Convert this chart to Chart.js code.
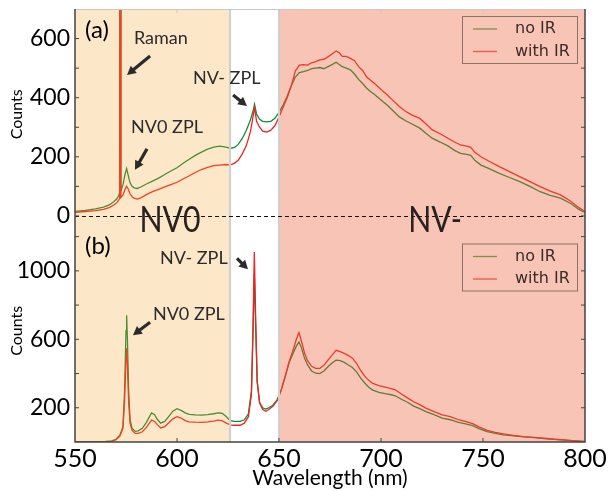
<!DOCTYPE html>
<html>
<head>
<meta charset="utf-8">
<script src="https://cdn.jsdelivr.net/npm/chart.js@4.4.0/dist/chart.umd.min.js"></script>
<style>
  html, body { margin: 0; padding: 0; background: #fff; }
  #wrap { width: 608px; height: 491px; }
</style>
</head>
<body>
<div id="wrap"><canvas id="spectra" width="608" height="491"></canvas></div>
<script>
// panel (a): wavelength (nm) and counts
const topWavelength = [550,555,560,564,567,569,570.5,571.5,571.9,572.2,572.5,573.5,574.5,575.3,576,577,578,579,580.5,582,
  585,588,591,594,597,600,603,606,609,612,615,618,621,624,626,628,630,632,634,636,
  637.5,638,639,640.5,642,644,646,648,650,652,654,656,658,660,662,664,666,668,670,672,
  674,676,678,679.5,681,683,685,687,689,691,693,695,697,700,703,706,709,712,715,719,
  722,725,729,733,736,739,742,744,746,749,753,758,763,768,773,778,783,788,793,797,800];
const topNoIR = [15,19,24,30,38,48,58,70,80,2500,85,105,140,160,140,112,100,95,93,97,
  108,118,128,140,152,163,178,192,205,216,226,233,236,233,229,231,242,262,290,325,
  360,378,345,327,320,318,320,330,350,375,405,440,470,485,488,492,498,500,502,498,
  505,512,520,512,505,500,494,480,462,448,432,420,410,392,375,355,335,322,312,297,
  280,263,250,236,222,212,208,205,188,172,160,144,130,116,100,82,70,60,42,22,12];
const topWithIR = [12,15,18,22,29,37,45,54,60,2500,62,70,90,100,92,75,65,60,57,60,
  72,82,90,98,106,114,125,136,147,157,164,170,172,174,172,178,188,210,238,285,
  345,368,320,300,287,284,290,305,335,368,400,440,490,510,512,510,518,522,528,530,
  538,548,558,552,540,540,533,525,505,492,470,458,447,428,410,390,370,354,342,330,
  312,292,278,262,250,240,236,232,215,200,185,167,150,133,116,99,84,71,50,28,15];

// panel (b)
const botWavelength = [550,555,560,565,568,570,572,573.5,574.3,575,575.3,575.7,576.3,577,578,579.5,581,583,585,587.5,
  589,590.5,592,594,596,598,600,602,604,606,609,612,615,618,620,622,624,626,628,631,
  633,635,636.5,637.3,637.9,638.5,639.3,640.5,642,643.5,645,647,649,651,653,655,657,658.5,659.8,661,
  662.5,664,666,668,670,672,674,676,678,680,682,684,686,688,690,692,694,696,699,702,
  705,707,710,713,716,719,722,726,730,734,738,742,745,748,752,756,760,765,770,775,
  780,785,790,795,800];
const botNoIR = [2,2,2,3,6,15,40,90,300,650,740,600,300,130,80,62,65,80,115,170,
  160,130,110,120,150,180,195,185,170,162,158,157,160,165,170,168,150,125,120,120,
  130,165,300,650,984,700,350,230,200,192,200,215,245,300,380,465,520,560,585,550,
  490,450,415,402,400,415,440,462,478,475,465,450,435,410,375,345,320,303,290,282,
  276,270,250,232,210,195,178,160,140,130,115,105,96,78,60,50,42,36,30,25,
  20,15,11,6,2];
const botWithIR = [1,1,1,2,4,12,35,80,240,480,548,450,230,110,68,50,50,60,85,128,
  120,100,82,90,112,135,148,140,125,118,116,115,118,122,128,125,112,100,98,98,
  110,148,280,700,1110,760,360,228,190,180,190,208,240,300,385,470,540,600,640,590,
  520,475,442,430,430,448,478,508,536,528,518,505,490,460,418,385,360,342,330,320,
  312,305,280,258,235,218,198,178,158,148,130,118,107,88,68,56,47,39,32,27,
  22,16,12,7,3];

const seriesNames = ['no IR', 'with IR'];
const xTickValues = [550, 600, 650, 700, 750, 800];
const topTickMarks = [0, 100, 200, 300, 400, 500, 600];
const topTickLabels = [0, 200, 400, 600];
const botTickMarks = [200, 400, 600, 800, 1000, 1200];
const botTickLabels = [200, 600, 1000];
const bandEdges = [550, 626, 650, 800]; // NV0 band | gap | NV- band

const GREEN = '#118a33';
const RED = '#ee2222';
const INK = '#2b2b2b';

Chart.defaults.font.family = 'Lato, "Open Sans", sans-serif';
Chart.defaults.color = '#000';

const pts = (xs, ys) => xs.map((x, i) => ({ x: x, y: ys[i] }));

function arrow(ctx, x1, y1, x2, y2) {
  const ang = Math.atan2(y2 - y1, x2 - x1);
  const head = 10;
  ctx.strokeStyle = INK;
  ctx.fillStyle = INK;
  ctx.lineWidth = 3.2;
  ctx.beginPath();
  ctx.moveTo(x1, y1);
  ctx.lineTo(x2 - Math.cos(ang) * head * 0.7, y2 - Math.sin(ang) * head * 0.7);
  ctx.stroke();
  ctx.beginPath();
  ctx.moveTo(x2, y2);
  ctx.lineTo(x2 - head * Math.cos(ang - 0.5), y2 - head * Math.sin(ang - 0.5));
  ctx.lineTo(x2 - head * Math.cos(ang + 0.5), y2 - head * Math.sin(ang + 0.5));
  ctx.closePath();
  ctx.fill();
}

function legendBox(ctx, left, top) {
  ctx.strokeStyle = '#8c7264';
  ctx.lineWidth = 1;
  ctx.strokeRect(left + 0.5, top + 0.5, 115, 47);
  const colors = ['#7d8f4e', '#f0554a'];
  ctx.font = '16px "DejaVu Sans"';
  ctx.textBaseline = 'middle';
  ctx.textAlign = 'left';
  seriesNames.forEach((name, i) => {
    const y = top + 13 + i * 22.5;
    ctx.strokeStyle = colors[i];
    ctx.lineWidth = 1.3;
    ctx.beginPath();
    ctx.moveTo(left + 11, y);
    ctx.lineTo(left + 35, y);
    ctx.stroke();
    ctx.fillStyle = '#3b2c28';
    ctx.fillText(name, left + 53, y);
  });
}

const decor = {
  id: 'decor',
  afterDatasetsDraw(chart) {
    const { ctx, chartArea: a, scales } = chart;
    const x = scales.x, yT = scales.yTop, yB = scales.yBot;
    const X = v => x.getPixelForValue(v);
    ctx.save();

    // shaded bands sit over the traces, as in the original figure
    ctx.fillStyle = 'rgba(245,160,40,0.25)';
    ctx.fillRect(X(bandEdges[0]), a.top, X(bandEdges[1]) - X(bandEdges[0]), a.height);
    ctx.fillStyle = 'rgba(235,100,60,0.38)';
    ctx.fillRect(X(bandEdges[2]), a.top, X(bandEdges[3]) - X(bandEdges[2]), a.height);
    ctx.strokeStyle = '#cfcfcf';
    ctx.lineWidth = 2;
    [bandEdges[1], bandEdges[2]].forEach(v => {
      ctx.beginPath();
      ctx.moveTo(X(v), a.top);
      ctx.lineTo(X(v), a.bottom);
      ctx.stroke();
    });

    // zero line of panel (a)
    const y0 = Math.round(yT.getPixelForValue(0)) + 0.5;
    ctx.strokeStyle = '#111';
    ctx.lineWidth = 1;
    ctx.setLineDash([4, 3]);
    ctx.beginPath();
    ctx.moveTo(a.left, y0);
    ctx.lineTo(a.right, y0);
    ctx.stroke();
    ctx.setLineDash([]);

    // frame and inward ticks
    ctx.strokeStyle = '#c8c8c8';
    ctx.lineWidth = 1;
    ctx.beginPath();
    ctx.moveTo(a.left, a.top + 0.5);
    ctx.lineTo(a.right, a.top + 0.5);
    ctx.stroke();
    xTickValues.slice(1, -1).forEach(v => {
      ctx.beginPath();
      ctx.moveTo(X(v), a.top);
      ctx.lineTo(X(v), a.top + 4);
      ctx.stroke();
    });
    ctx.strokeStyle = '#444';
    ctx.lineWidth = 1.5;
    ctx.beginPath();
    ctx.moveTo(a.left, a.top);
    ctx.lineTo(a.left, a.bottom);
    ctx.lineTo(a.right, a.bottom);
    ctx.lineTo(a.right, a.top);
    ctx.stroke();
    ctx.lineWidth = 1;
    xTickValues.slice(1, -1).forEach(v => {
      ctx.beginPath();
      ctx.moveTo(X(v), a.bottom);
      ctx.lineTo(X(v), a.bottom - 4);
      ctx.stroke();
    });
    [yT, yB].forEach(s => {
      s.ticks.forEach(t => {
        if (t.value <= s.min || t.value >= s.max) return;
        const py = s.getPixelForValue(t.value);
        ctx.beginPath();
        ctx.moveTo(a.left, py); ctx.lineTo(a.left + 4, py);
        ctx.moveTo(a.right, py); ctx.lineTo(a.right - 4, py);
        ctx.stroke();
      });
    });

    // annotations
    ctx.fillStyle = '#000';
    ctx.textBaseline = 'middle';
    ctx.textAlign = 'left';
    ctx.font = '24px Lato';
    ctx.fillText('(a)', X(554.9), yT.getPixelForValue(629));
    ctx.fillText('(b)', X(554.9), yB.getPixelForValue(1143));

    ctx.fillStyle = INK;
    ctx.font = '18px Lato';
    ctx.fillText('Raman', X(578.9), yT.getPixelForValue(602));
    ctx.fillText('NV0 ZPL', X(577.5), yT.getPixelForValue(301));
    ctx.fillText('NV- ZPL', X(607.8), yT.getPixelForValue(467));
    ctx.fillText('NV- ZPL', X(591.7), yB.getPixelForValue(1073));
    ctx.fillText('NV0 ZPL', X(588.2), yB.getPixelForValue(746));

    arrow(ctx, X(586.8), yT.getPixelForValue(541), X(575.5), yT.getPixelForValue(477));
    arrow(ctx, X(585.3), yT.getPixelForValue(227), X(579.4), yT.getPixelForValue(156));
    arrow(ctx, X(627.5), yT.getPixelForValue(409), X(634.3), yT.getPixelForValue(372));
    arrow(ctx, X(629.4), yB.getPixelForValue(1073), X(634.8), yB.getPixelForValue(1009));
    arrow(ctx, X(586.8), yB.getPixelForValue(700), X(578.4), yB.getPixelForValue(624));

    // band names on the seam between panels
    const seam = yT.bottom + 1;
    ctx.fillStyle = '#2a2220';
    ctx.font = '36px Lato';
    ctx.textAlign = 'center';
    [['NV0', 596.6], ['NV-', 726.5]].forEach(([txt, wl]) => {
      ctx.save();
      ctx.translate(X(wl), seam);
      ctx.scale(0.84, 1);
      ctx.fillText(txt, 0, 0);
      ctx.restore();
    });

    legendBox(ctx, a.right - 123, yT.top + 7);
    legendBox(ctx, a.right - 123, yB.top + 24);

    ctx.restore();
  }
};

const fitY = s => { s.width = 75; s.paddingTop = 0; s.paddingBottom = 0; };

new Chart(document.getElementById('spectra'), {
  type: 'line',
  data: {
    datasets: [
      { label: seriesNames[0], data: pts(topWavelength, topNoIR), yAxisID: 'yTop', borderColor: GREEN, order: 2 },
      { label: seriesNames[1], data: pts(topWavelength, topWithIR), yAxisID: 'yTop', borderColor: RED, order: 1 },
      { label: seriesNames[0], data: pts(botWavelength, botNoIR), yAxisID: 'yBot', borderColor: GREEN, order: 2 },
      { label: seriesNames[1], data: pts(botWavelength, botWithIR), yAxisID: 'yBot', borderColor: RED, order: 1 }
    ]
  },
  options: {
    responsive: false,
    animation: false,
    events: [],
    layout: { padding: { top: 9, right: 23, left: 0, bottom: 0 } },
    elements: {
      point: { radius: 0 },
      line: { borderWidth: 1.3, tension: 0 }
    },
    plugins: { legend: { display: false }, tooltip: { enabled: false } },
    scales: {
      x: {
        type: 'linear',
        min: 550, max: 800,
        grid: { display: false, drawTicks: false },
        border: { display: false },
        ticks: { stepSize: 50, padding: 2, font: { size: 25 } },
        title: { display: true, text: 'Wavelength (nm)', font: { size: 21 }, padding: { top: 0, bottom: 0 } },
        afterFit: s => { s.height = 49; s.paddingLeft = 0; s.paddingRight = 0; }
      },
      yBot: {
        type: 'linear',
        position: 'left',
        stack: 'panels',
        stackWeight: 222.5,
        min: 0, max: 1300,
        grid: { display: false, drawTicks: false },
        border: { display: false },
        afterBuildTicks: s => { s.ticks = botTickMarks.map(v => ({ value: v })); },
        ticks: {
          autoSkip: false, padding: 5, font: { size: 23 },
          callback: v => botTickLabels.includes(v) ? String(v) : ''
        },
        title: { display: true, text: 'Counts', font: { size: 16 }, padding: { top: 7, bottom: 0 } },
        afterFit: fitY
      },
      yTop: {
        type: 'linear',
        position: 'left',
        stack: 'panels',
        stackWeight: 210.5,
        min: -12, max: 700,
        grid: { display: false, drawTicks: false },
        border: { display: false },
        afterBuildTicks: s => { s.ticks = topTickMarks.map(v => ({ value: v })); },
        ticks: {
          autoSkip: false, padding: 5, font: { size: 23 },
          callback: v => topTickLabels.includes(v) ? String(v) : ''
        },
        title: { display: true, text: 'Counts', font: { size: 16 }, padding: { top: 7, bottom: 0 } },
        afterFit: fitY
      }
    }
  },
  plugins: [decor]
});
</script>
</body>
</html>
